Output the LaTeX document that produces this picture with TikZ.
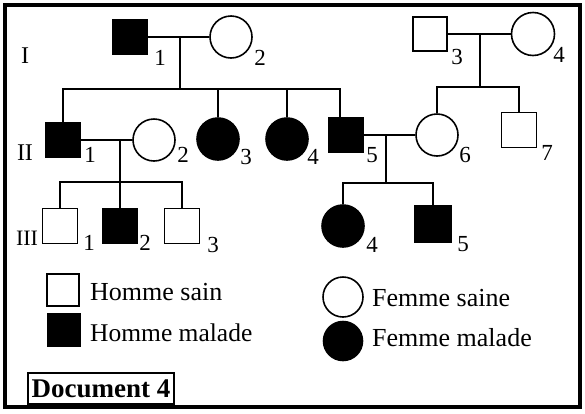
\documentclass[tikz,border=0pt]{standalone}
\usepackage{fontspec}
\setmainfont{Liberation Serif}

\tikzset{
  homme/.style={draw, rectangle, line width=1.6pt, minimum size=35pt, inner sep=0pt},
  femme/.style={draw, circle, line width=1.6pt, minimum size=42pt, inner sep=0pt},
  malade/.style={fill=black},
  num/.style={inner sep=0pt, font=\fontsize{23}{23}\selectfont},
  gen/.style={inner sep=0pt, font=\fontsize{24}{24}\selectfont},
  leg/.style={anchor=west, inner sep=0pt, font=\fontsize{26}{26}\selectfont},
  lien/.style={line width=1.6pt},
}

\begin{document}
\begin{tikzpicture}[x=1pt, y=-1pt]
  \useasboundingbox (0,0) rectangle (585,413);
  \draw[line width=4pt] (5,5) rectangle (580,407);

  % generations
  \node [gen] (gI) at (25,56) {I};
  \node [gen] (gII) at (25,153) {II};
  \node [gen, font=\fontsize{22}{22}\selectfont] (gIII) at (27,238) {III};

  % generation I
  \node [homme, malade] (I1) at (130,37) {};
  \node [femme] (I2) at (231,37) {};
  \node [homme, minimum size=34pt] (I3) at (430,34) {};
  \node [femme, minimum size=43pt] (I4) at (533,34) {};
  \node [num] (nI1) at (160,58) {1};
  \node [num] (nI2) at (260,58) {2};
  \node [num] (nI3) at (457,57) {3};
  \node [num] (nI4) at (559,55) {4};

  % generation II
  \node [homme, malade] (II1) at (63,140) {};
  \node [femme] (II2) at (154,140) {};
  \node [femme, malade] (II3) at (218,139) {};
  \node [femme, malade] (II4) at (287,139) {};
  \node [homme, malade] (II5) at (346,135) {};
  \node [femme] (II6) at (437,135) {};
  \node [homme] (II7) at (519,130) {};
  \node [num] (nII1) at (90,155) {1};
  \node [num] (nII2) at (183,155) {2};
  \node [num] (nII3) at (246,157) {3};
  \node [num] (nII4) at (313,157) {4};
  \node [num] (nII5) at (372,155) {5};
  \node [num] (nII6) at (465,155) {6};
  \node [num] (nII7) at (547,153) {7};

  % generation III
  \node [homme] (III1) at (60,226) {};
  \node [homme, malade] (III2) at (120,226) {};
  \node [homme] (III3) at (182,226) {};
  \node [femme, malade] (III4) at (343,226) {};
  \node [homme, malade, minimum size=36pt] (III5) at (433,224) {};
  \node [num] (nIII1) at (89,243) {1};
  \node [num] (nIII2) at (145,243) {2};
  \node [num] (nIII3) at (213,245) {3};
  \node [num] (nIII4) at (372,245) {4};
  \node [num] (nIII5) at (463,244) {5};

  % couples et descendance
  \coordinate (m1) at (180,37);
  \coordinate (f1) at (180,89);
  \coordinate (e5) at (340,89);
  \coordinate (m2) at (480,34);
  \coordinate (f2) at (480,87);
  \coordinate (m3) at (120,140);
  \coordinate (f3) at (120,182);
  \coordinate (m4) at (386,135);
  \coordinate (f4) at (386,183);

  \draw[lien] (I1) -- (I2);
  \draw[lien] (m1) -- (f1);
  \draw[lien] (II1.north) |- (e5) -- (e5 |- II5.north);
  \draw[lien] (II3.north) -- (II3.north |- f1);
  \draw[lien] (II4.north) -- (II4.north |- f1);

  \draw[lien] (I3) -- (I4);
  \draw[lien] (m2) -- (f2);
  \draw[lien] (II6.north) |- (f2) -| (II7.north);

  \draw[lien] (II1) -- (II2);
  \draw[lien] (m3) -- (III2.north);
  \draw[lien] (III1.north) |- (f3) -| (III3.north);

  \draw[lien] (II5) -- (II6);
  \draw[lien] (m4) -- (f4);
  \draw[lien] (III4.north) |- (f4) -| (III5.north);

  % legende
  \node [homme, minimum size=32pt] (lh1) at (63,290) {};
  \node [homme, malade, minimum size=32pt] (lh2) at (64,330) {};
  \node [femme, minimum size=40pt] (lf1) at (343,297) {};
  \node [femme, malade, minimum size=39pt] (lf2) at (343,341) {};
  \node [leg] (th1) at (90,292) {Homme sain};
  \node [leg, font=\fontsize{25.5}{25.5}\selectfont] (th2) at (90,333) {Homme malade};
  \node [leg] (tf1) at (372,298) {Femme saine};
  \node [leg] (tf2) at (372,338) {Femme malade};

  \node [draw, line width=2.5pt, minimum width=146pt, minimum height=31pt, inner sep=0pt,
         font=\bfseries\fontsize{27}{27}\selectfont] (doc) at (101,388.5) {Document 4};
\end{tikzpicture}
\end{document}
